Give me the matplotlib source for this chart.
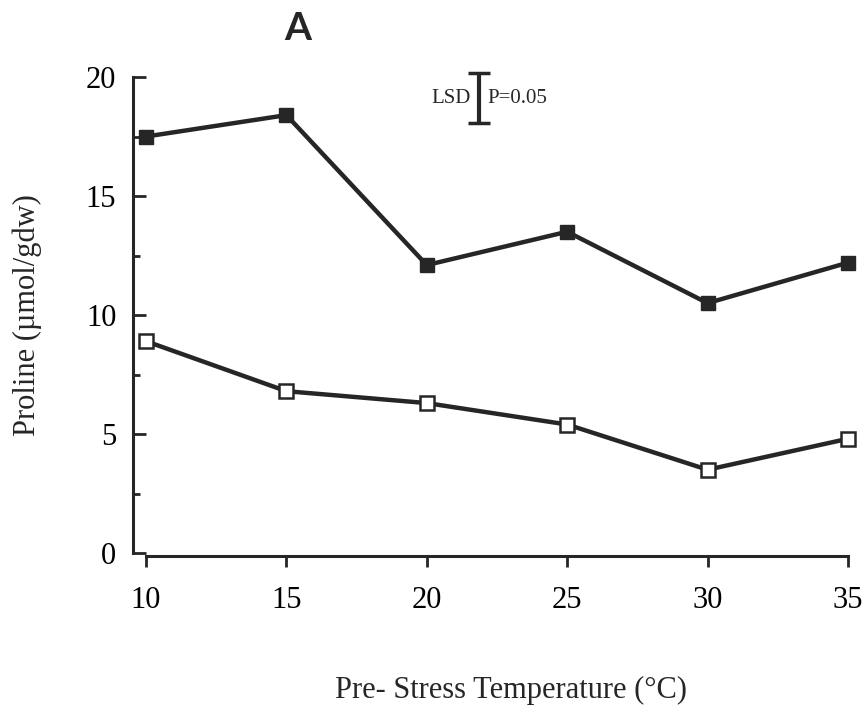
import matplotlib.pyplot as plt

# pre-stress temperatures (deg C)
temps = [10, 15, 20, 25, 30, 35]
# proline content, umol/gdw
stressed = [17.5, 18.4, 12.1, 13.5, 10.5, 12.2]
control = [8.9, 6.8, 6.3, 5.4, 3.5, 4.8]
lsd = 2.1
lsd_x, lsd_y = 21.85, 19.1

yticks = [0, 5, 10, 15, 20]
yminor = [2.5, 7.5, 12.5, 17.5]

plt.rcParams['font.family'] = ['Liberation Serif', 'DejaVu Serif']
ink = '#262626'

fig = plt.figure(figsize=(8.63, 7.10), dpi=100)
ax = fig.add_axes([0.1541, 0.2211, 0.8382, 0.6704])

ax.plot(temps, stressed, color=ink, lw=3.2, marker='s', ms=10.5,
        mfc=ink, mec=ink, clip_on=False, zorder=3)
ax.plot(temps, control, color=ink, lw=3.2, marker='s', ms=9.5,
        mfc='white', mec=ink, mew=1.8, clip_on=False, zorder=3)

# LSD bar
ax.errorbar([lsd_x], [lsd_y], yerr=[lsd / 2], fmt='none', ecolor=ink,
            elinewidth=3, capsize=8, capthick=2.5, clip_on=False)
ax.text(lsd_x - 0.3, lsd_y, 'LSD', ha='right', va='center', fontsize=15, color=ink)
ax.text(lsd_x + 0.3, lsd_y, 'P=0.05', ha='left', va='center', fontsize=15, color=ink)

ax.set_xlim(9.537, 35.3)
ax.set_ylim(0, 20)

for s in ['top', 'right']:
    ax.spines[s].set_visible(False)
ax.spines['left'].set_linewidth(2.2)
ax.spines['left'].set_color(ink)
ax.spines['bottom'].set_linewidth(2.2)
ax.spines['bottom'].set_color(ink)
ax.spines['bottom'].set_bounds(10, 35)
ax.spines['bottom'].set_position(('outward', 2))

ax.set_xticks(temps)
ax.set_yticks(yticks)
ax.set_yticks(yminor, minor=True)
ax.tick_params(axis='y', which='major', direction='in', length=9, width=2,
               color=ink, labelsize=22, pad=12)
ax.tick_params(axis='y', which='minor', direction='in', length=5, width=2, color=ink)
ax.tick_params(axis='x', direction='out', length=8, width=2, color=ink,
               labelsize=22, pad=14)

fig.text(0.592, 0.028, 'Pre- Stress Temperature (\u00b0C)', ha='center', va='center',
         fontsize=22, color=ink)
fig.text(0.031, 0.556, 'Proline (\u00b5mol/gdw)', ha='center', va='center',
         rotation=90, fontsize=22, color=ink)
fig.text(0.345, 0.96, 'A', ha='center', va='center', fontsize=28,
         fontweight='bold', family=['Lato', 'DejaVu Sans'], color=ink)

plt.savefig('out.png', dpi=100)
